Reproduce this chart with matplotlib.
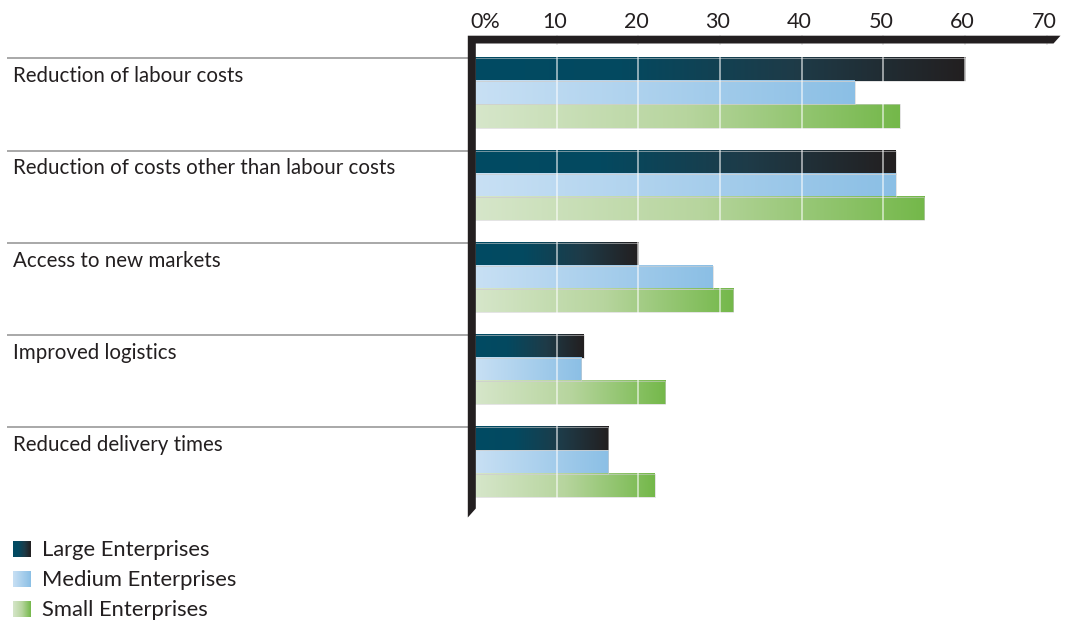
import numpy as np
import matplotlib
matplotlib.use("Agg")
import matplotlib.pyplot as plt
from matplotlib.colors import LinearSegmentedColormap
from matplotlib.patches import Polygon
from matplotlib import transforms

# ---- data -------------------------------------------------------------
categories = [
    "Reduction of labour costs",
    "Reduction of costs other than labour costs",
    "Access to new markets",
    "Improved logistics",
    "Reduced delivery times",
]
large = [60.0, 51.5, 20.0, 13.3, 16.3]
medium = [46.5, 51.5, 29.1, 13.0, 16.3]
small = [52.0, 55.0, 31.6, 23.3, 22.0]
series_names = ["Large Enterprises", "Medium Enterprises", "Small Enterprises"]
tick_values = [0, 10, 20, 30, 40, 50, 60, 70]
tick_labels = ["0%", "10", "20", "30", "40", "50", "60", "70"]

# ---- styling ----------------------------------------------------------
W, H = 1067, 622
plt.rcParams["font.family"] = ["Lato", "DejaVu Sans"]
TEXT = "#231f20"

cmaps = [
    LinearSegmentedColormap.from_list(
        "large", [(0.0, "#014b63"), (0.3, "#044960"), (0.65, "#1e3b48"), (1.0, "#231f20")]),
    LinearSegmentedColormap.from_list("medium", ["#c8e0f4", "#8bbfe5"]),
    LinearSegmentedColormap.from_list("small", ["#d6e6ca", "#b7d59e", "#74b84a"]),
]

fig = plt.figure(figsize=(W / 100, H / 100), dpi=100)

# data axes: value 0 sits at x=475px, 8.17px per percentage point;
# one bar slot is 23.07px tall, first group starts at y=58.3px
x0_px, px_per_unit = 475.0, 8.17
y0_px, slot_px = 58.3, 23.07
XLIM = (-x0_px / px_per_unit, (W - x0_px) / px_per_unit)
YLIM = ((H - y0_px) / slot_px, -y0_px / slot_px)
ax = fig.add_axes([0, 0, 1, 1])
ax.axis("off")

# pixel axes for decoration
pax = fig.add_axes([0, 0, 1, 1], zorder=3)
pax.axis("off")
pax.patch.set_alpha(0)

grad = np.linspace(0, 1, 256).reshape(1, -1)

# ---- bars -------------------------------------------------------------
n = len(categories)
for s, vals in enumerate([large, medium, small]):
    pos = [4 * g + s + 0.5 for g in range(n)]
    bars = ax.barh(pos, vals, height=1.0, left=0, color="none",
                   edgecolor="#cfcfcf", linewidth=0.4, zorder=3)
    for rect in bars:
        x, y = rect.get_x(), rect.get_y()
        w, h = rect.get_width(), rect.get_height()
        ax.imshow(grad, cmap=cmaps[s], aspect="auto",
                  extent=[x, x + w, y + h, y], interpolation="bicubic", zorder=2)
ax.set_xlim(*XLIM)
ax.set_ylim(*YLIM)
pax.set_xlim(0, W)
pax.set_ylim(H, 0)

# light grid lines across the bars
for v in tick_values[1:-1]:
    ax.plot([v, v], [0, 4 * n - 1], color="white", alpha=0.55, lw=1.4, zorder=4)

# ---- category labels and divider lines --------------------------------
blend = transforms.blended_transform_factory(pax.transData, ax.transData)
for g, name in enumerate(categories):
    ax.plot([7, 468], [4 * g, 4 * g], color="#9a9a9a", lw=1.2,
            transform=blend, zorder=1, solid_capstyle="butt")
    ax.text(13, 4 * g + 1.03, name, transform=blend, fontsize=14.8,
            color=TEXT, va="baseline", ha="left")

# ---- axis frame (thick black top bar and left bar) --------------------
top_y0, top_y1 = 35.7, 43.5
left_x0, left_x1 = 467.8, 475.8
pax.add_patch(Polygon([(left_x0, top_y0), (1060.5, top_y0), (1053.5, top_y1),
                       (left_x1, top_y1), (left_x1, 508.5), (left_x0, 517.5)],
                      closed=True, facecolor=TEXT, edgecolor="none", zorder=5))

axis_blend = transforms.blended_transform_factory(ax.transData, pax.transData)
for v, lab in zip(tick_values, tick_labels):
    if v > 0:
        ax.plot([v, v], [top_y0, top_y1], color="#e6e6e6", lw=1.3,
                transform=axis_blend, zorder=6)
    xpos = v - (0.6 if v == 0 else 0.3)
    ax.text(xpos, 28.5, lab, transform=axis_blend, fontsize=15.5, color=TEXT,
            ha="left" if v == 0 else "center", va="baseline")

# ---- legend -----------------------------------------------------------
for s, name in enumerate(series_names):
    top = 541.5 + 30 * s
    pax.imshow(grad, cmap=cmaps[s], aspect="auto",
               extent=[13, 31, top + 16, top], interpolation="bicubic", zorder=4)
    pax.text(42, top + 14, name, fontsize=15.8, color=TEXT,
             va="baseline", ha="left")
pax.set_xlim(0, W)
pax.set_ylim(H, 0)

fig.savefig("out.png", dpi=100)
